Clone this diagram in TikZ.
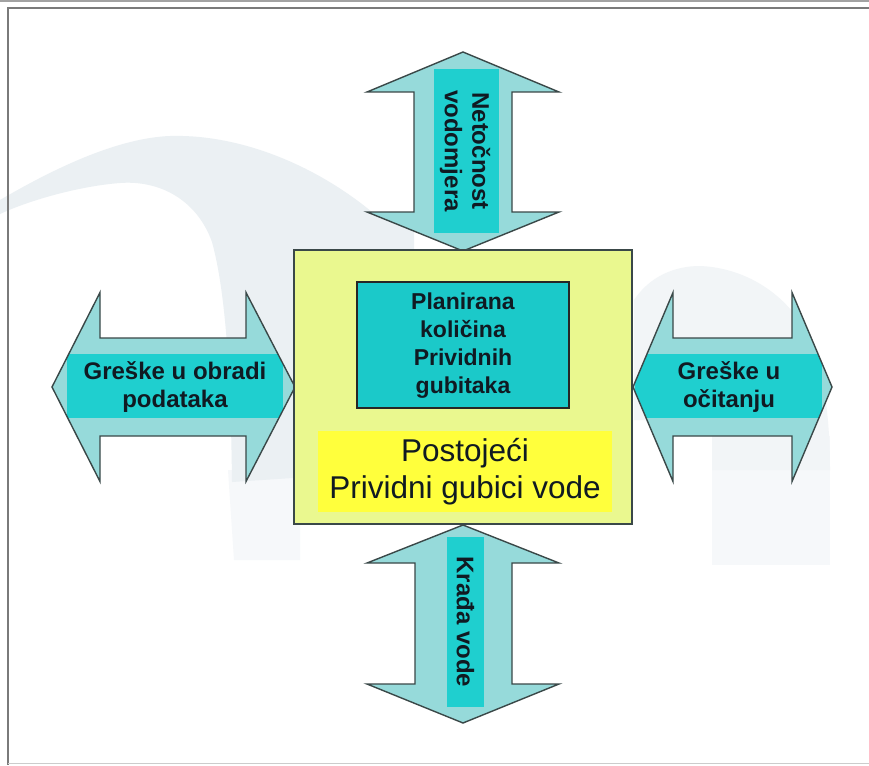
\documentclass[tikz,border=0pt]{standalone}
\usepackage{fontspec}
\setmainfont{Liberation Sans}
\definecolor{arrowfill}{HTML}{96DADA}
\definecolor{labelfill}{HTML}{1FCFCF}
\definecolor{boxfill}{HTML}{EAF88F}
\definecolor{postfill}{HTML}{FFFF3C}
\definecolor{innerfill}{HTML}{1BC9C9}
\definecolor{edge}{HTML}{3A4848}
\definecolor{txt}{HTML}{101A22}
\definecolor{swoosh}{HTML}{EBF0F3}
\definecolor{swooshb}{HTML}{F2F5F7}
\definecolor{swooshc}{HTML}{F6F8FA}
\definecolor{frameg}{HTML}{7A7A7A}
\tikzset{
  arrowshape/.style={draw=edge, line width=1.4pt, line join=miter},
  lblrect/.style={fill=labelfill},
  lbl/.style={inner sep=0pt, align=center, text=txt, font=\fontsize{24}{27.5}\selectfont\bfseries},
  bigbox/.style={fill=boxfill, draw=edge, line width=1.6pt},
  innerbox/.style={fill=innerfill, draw=black!85, line width=2.4pt},
  postbox/.style={fill=postfill},
}
\begin{document}
\begin{tikzpicture}[x=1pt,y=-1pt]
\useasboundingbox (0,0) rectangle (869,765);
\fill[white] (0,0) rectangle (869,765);
% background swooshes
\fill[swooshc] (228,470) -- (300,470) -- (300,560) -- (234,560) -- cycle;
\fill[swoosh] (0,200) .. controls (60,165) and (120,138) .. (170,136)
  .. controls (240,134) and (315,165) .. (372,212) -- (414,212) -- (414,470) -- (232,482)
  .. controls (231,400) and (228,300) .. (212,242)
  .. controls (197,200) and (160,180) .. (120,183)
  .. controls (80,186) and (30,200) .. (0,214) -- cycle;
\fill[swooshc] (712,436) -- (830,436) -- (830,565) -- (712,565) -- cycle;
\fill[swooshb] (634,300) .. controls (650,276) and (675,266) .. (700,266)
  .. controls (750,268) and (800,300) .. (818,360)
  .. controls (828,400) and (830,440) .. (830,470) -- (712,470) -- (712,420) -- (634,420) -- cycle;
% frame
\draw[frameg!70, line width=1.5pt] (0,1.2) -- (869,1.2);
\draw[frameg, line width=2pt] (869,8) -- (7.5,8) -- (7.5,765);
\draw[black!20, line width=1.5pt] (7.5,763.5) -- (869,763.5);
% left arrow
\def\pathL{(52,387) -- (100,292.5) -- (100,338) -- (246,338) -- (246,292.5) -- (295,387) -- (246,481.5) -- (246,436) -- (100,436) -- (100,481.5) -- cycle}
\fill[arrowfill] \pathL;
\begin{scope}\clip \pathL; \fill[lblrect] (67,354) rectangle (283,418);\end{scope}
\draw[arrowshape] \pathL;
\node[lbl] (lt) at (175,387) {Greške u obradi\\podataka};
% right arrow
\def\pathR{(633,387) -- (673,292.5) -- (673,338) -- (792,338) -- (792,292.5) -- (832,387) -- (792,481.5) -- (792,436) -- (673,436) -- (673,481.5) -- cycle}
\fill[arrowfill] \pathR;
\begin{scope}\clip \pathR; \fill[lblrect] (635,354) rectangle (822,418);\end{scope}
\draw[arrowshape] \pathR;
\node[lbl] (rt) at (729,387) {Greške u\\očitanju};
% top arrow
\def\pathT{(463,52) -- (559,92) -- (512,92) -- (512,212) -- (559,212) -- (463,251) -- (367,212) -- (414,212) -- (414,92) -- (367,92) -- cycle}
\fill[arrowfill] \pathT;
\begin{scope}\clip \pathT; \fill[lblrect] (434,69) rectangle (499,233);\end{scope}
\draw[arrowshape] \pathT;
\node[lbl, rotate=-90] (tp) at (465,151) {Netočnost\\vodomjera};
% bottom arrow
\def\pathB{(463,525) -- (559,563) -- (512,563) -- (512,684) -- (559,684) -- (463,723) -- (367,684) -- (415,684) -- (415,563) -- (367,563) -- cycle}
\fill[arrowfill] \pathB;
\begin{scope}\clip \pathB; \fill[lblrect] (447,537) rectangle (484,707);\end{scope}
\draw[arrowshape] \pathB;
\node[lbl, rotate=-90] (bt) at (465.5,622) {Krađa vode};
% central box
\node[bigbox, minimum width=338pt, minimum height=274pt, inner sep=0pt] (box) at (463,387) {};
\node[innerbox, minimum width=212pt, minimum height=126pt, inner sep=0pt] (plan) at (463,345) {};
\node[lbl, font=\fontsize{23}{28}\selectfont\bfseries] (plant) at (463,346) {Planirana\\količina\\Prividnih\\gubitaka};
\node[postbox, minimum width=294pt, minimum height=81pt, inner sep=0pt] (post) at (465,471.5) {};
\node[inner sep=0pt, align=center, text=txt, font=\fontsize{31.5}{37}\selectfont] (postt) at (465,472) {Postojeći\\Prividni gubici vode};
\end{tikzpicture}
\end{document}
